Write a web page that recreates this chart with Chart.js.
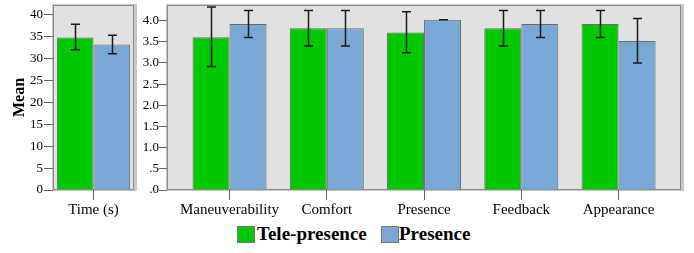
<!DOCTYPE html>
<html>
<head>
<meta charset="utf-8">
<script src="https://cdn.jsdelivr.net/npm/chart.js@4/dist/chart.umd.min.js"></script>
<style>
  body { margin: 0; background: #fff; width: 694px; height: 253px; overflow: hidden; position: relative; }
  canvas { position: absolute; top: 0; }
  #timeChart { left: 0; }
  #ratingChart { left: 140px; }
  .legend { position: absolute; top: 225px; font: bold 19px "Liberation Serif", serif; color: #000; }
  .legend span.box { position: absolute; top: 1px; width: 18px; height: 17px; border: 1px solid #777; box-sizing: border-box; }
  .legend span.txt { position: absolute; top: -2px; white-space: nowrap; }
</style>
</head>
<body>
<canvas id="timeChart" width="140" height="222"></canvas>
<canvas id="ratingChart" width="554" height="222"></canvas>
<div class="legend">
  <span class="box" style="left:237px;background:#00C800"></span><span class="txt" style="left:257px">Tele-presence</span>
  <span class="box" style="left:381px;background:#7AA8D6"></span><span class="txt" style="left:399px">Presence</span>
</div>
<script>
'use strict';

// left panel
const timeLabels = ['Time (s)'];
const timeTele = [34.8];
const timeTeleLow = [32.0];
const timeTeleHigh = [37.8];
const timePres = [33.2];
const timePresLow = [31.1];
const timePresHigh = [35.3];

// right panel
const ratingLabels = ['Maneuverability', 'Comfort', 'Presence', 'Feedback', 'Appearance'];
const ratingTele = [3.61, 3.82, 3.72, 3.82, 3.92];
const ratingTeleLow = [2.92, 3.40, 3.24, 3.40, 3.60];
const ratingTeleHigh = [4.32, 4.24, 4.21, 4.24, 4.24];
const ratingPres = [3.92, 3.82, 4.02, 3.92, 3.52];
const ratingPresLow = [3.60, 3.40, 4.02, 3.60, 3.00];
const ratingPresHigh = [4.24, 4.24, 4.02, 4.24, 4.05];

const green = '#00C800';
const blue = '#7AA8D6';
const serif = '"Liberation Serif", "Times New Roman", serif';

const panelBg = {
  id: 'panelBg',
  beforeDraw(chart) {
    const a = chart.chartArea;
    const c = chart.ctx;
    c.save();
    c.fillStyle = '#C8C8C8';
    c.fillRect(a.left - 1, a.top - 1, a.right - a.left + 4, a.bottom - a.top + 2);
    c.fillStyle = '#E1E1E1';
    c.fillRect(a.left, a.top, a.right - a.left, a.bottom - a.top);
    c.strokeStyle = '#8A8A8A';
    c.lineWidth = 1;
    c.strokeRect(a.left + 0.5, a.top + 0.5, a.right - a.left - 1, a.bottom - a.top - 1);
    c.restore();
  }
};

const errorBars = {
  id: 'errorBars',
  afterDatasetsDraw(chart) {
    const c = chart.ctx;
    const y = chart.scales.y;
    c.save();
    c.strokeStyle = '#1A1A1A';
    c.lineWidth = 1.5;
    chart.data.datasets.forEach((ds, i) => {
      const meta = chart.getDatasetMeta(i);
      meta.data.forEach((bar, j) => {
        const lo = y.getPixelForValue(ds.errLow[j]);
        const hi = y.getPixelForValue(ds.errHigh[j]);
        const x = Math.round(bar.x) + 0.5;
        c.beginPath();
        c.moveTo(x, lo); c.lineTo(x, hi);
        c.moveTo(x - 4.5, lo); c.lineTo(x + 4.5, lo);
        c.moveTo(x - 4.5, hi); c.lineTo(x + 4.5, hi);
        c.stroke();
      });
    });
    c.restore();
  }
};

function barSet(label, data, color, lo, hi) {
  return {
    label: label,
    data: data,
    backgroundColor: color,
    borderColor: '#6A6A6A',
    borderWidth: 1,
    errLow: lo,
    errHigh: hi
  };
}

// keep the plot boxes where the reference has them
function fixX(s) {
  s.height = 32;
  s.paddingLeft = 0; s.paddingRight = 0;
}
function fixY(w) {
  return s => {
    s.width = w;
    s.paddingTop = 0; s.paddingBottom = 0;
  };
}

const tickFont = { family: serif, size: 13 };
const catFont = { family: serif, size: 15 };

new Chart(document.getElementById('timeChart'), {
  type: 'bar',
  data: {
    labels: timeLabels,
    datasets: [
      barSet('Tele-presence', timeTele, green, timeTeleLow, timeTeleHigh),
      barSet('Presence', timePres, blue, timePresLow, timePresHigh)
    ]
  },
  options: {
    responsive: false,
    animation: false,
    layout: { padding: { left: 0, right: 6, top: 5, bottom: 0 } },
    datasets: { bar: { categoryPercentage: 0.905, barPercentage: 1 } },
    plugins: { legend: { display: false }, tooltip: { enabled: false } },
    scales: {
      x: {
        offset: true,
        grid: { offset: false, drawOnChartArea: false, tickLength: 10, tickColor: '#666' },
        border: { display: false },
        ticks: { font: catFont, color: '#000', padding: 1 },
        afterFit: fixX
      },
      y: {
        min: 0,
        max: 42.2,
        ticks: { stepSize: 5, includeBounds: false, font: tickFont, color: '#000', padding: 1 },
        grid: { drawOnChartArea: false, tickLength: 9, tickColor: '#666' },
        border: { display: false },
        title: { display: true, text: 'Mean', color: '#000', font: { family: serif, size: 16, weight: 'bold' }, padding: { top: 10, bottom: 0 } },
        afterFit: fixY(53)
      }
    }
  },
  plugins: [panelBg, errorBars]
});

new Chart(document.getElementById('ratingChart'), {
  type: 'bar',
  data: {
    datasets: [
      barSet('Tele-presence', ratingTele.map((v, i) => ({ x: i, y: v })), green, ratingTeleLow, ratingTeleHigh),
      barSet('Presence', ratingPres.map((v, i) => ({ x: i, y: v })), blue, ratingPresLow, ratingPresHigh)
    ]
  },
  options: {
    responsive: false,
    animation: false,
    layout: { padding: { left: 0, right: 13, top: 5, bottom: 0 } },
    datasets: { bar: { categoryPercentage: 0.761, barPercentage: 1 } },
    plugins: { legend: { display: false }, tooltip: { enabled: false } },
    scales: {
      x: {
        type: 'linear',
        offset: false,
        min: -0.643,
        max: 4.642,
        grid: { offset: false, drawOnChartArea: false, tickLength: 10, tickColor: '#666' },
        border: { display: false },
        ticks: {
          stepSize: 1,
          includeBounds: false,
          font: catFont,
          color: '#000',
          padding: 1,
          autoSkip: false,
          maxRotation: 0,
          callback: v => ratingLabels[v] || ''
        },
        afterFit: fixX
      },
      y: {
        min: 0,
        max: 4.37,
        ticks: {
          stepSize: 0.5,
          includeBounds: false,
          font: tickFont,
          color: '#000',
          padding: 0,
          callback: v => v.toFixed(1).replace(/^0/, '')
        },
        grid: { drawOnChartArea: false, tickLength: 8, tickColor: '#666' },
        border: { display: false },
        afterFit: fixY(27)
      }
    }
  },
  plugins: [panelBg, errorBars]
});
</script>
</body>
</html>
